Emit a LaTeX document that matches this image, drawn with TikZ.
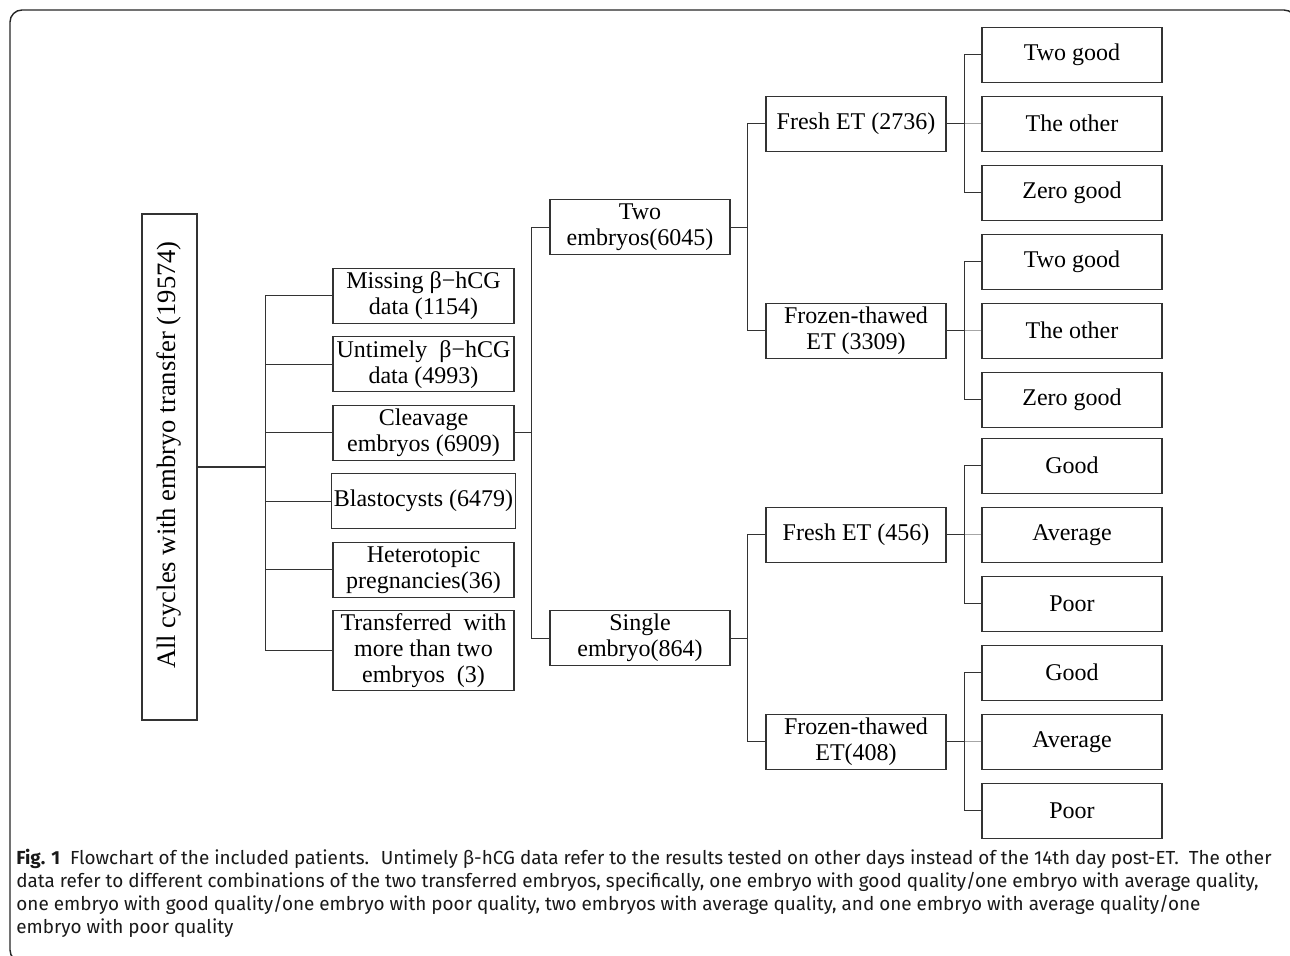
\documentclass[tikz,border=0pt]{standalone}
\usepackage{fontspec}
\setmainfont{Liberation Serif}
\newfontfamily\capfont{Fira Sans}
\usetikzlibrary{trees}

\begin{document}
\begin{tikzpicture}[x=0.5pt,y=-0.5pt]%
  \useasboundingbox (0,0) rectangle (1290,956);
  \clip (0,0) rectangle (1290,956);
  \tikzstyle{level 1}=[level distance=127pt,sibling distance=34.25pt,
    edge from parent path={(\tikzparentnode.east) -- +(34pt,0) |- (\tikzchildnode.west)}]
  \tikzstyle{level 2}=[level distance=108.25pt,sibling distance=205.5pt,
    edge from parent path={(\tikzparentnode.east) -- +(8.5pt,0) |- (\tikzchildnode.west)}]
  \tikzstyle{level 3}=[level distance=108pt,sibling distance=103.5pt,
    edge from parent path={(\tikzparentnode.east) -- +(8.5pt,0) |- (\tikzchildnode.west)}]
  \tikzstyle{level 4}=[level distance=108pt,sibling distance=34.5pt,
    edge from parent path={(\tikzparentnode.east) -- +(9pt,0) |- (\tikzchildnode.west)}]
  \tikzstyle{edge from parent}=[draw,black!80,line width=0.65pt]
  \tikzstyle{midline}=[draw=black!35,line width=0.45pt]
  \tikzstyle{boxn}=[rectangle,draw=black!80,line width=0.65pt,minimum width=90pt,
    minimum height=27.5pt,inner sep=1pt,align=center,font=\fontsize{12}{13}\selectfont]
  % frame round the figure and its caption
  \draw[black!85,line width=0.7pt,rounded corners=6pt] (10,10) rectangle (1296,962);
  \node(root)[boxn,minimum width=27.5pt,minimum height=253pt,font=\fontsize{13.3}{14}\selectfont] at (169.5,467)
    {\rotatebox{90}{\hspace*{12pt}All cycles with embryo transfer (19574)}}
    [grow'=right]
    child{node[boxn,minimum width=90.5pt]{Missing β−hCG\\data (1154)}}
    child{node[boxn,minimum width=90.5pt]{Untimely \ β−hCG\\data (4993)}}
    child{node(cleav)[boxn,minimum width=90.5pt]{Cleavage\\embryos (6909)}
      child{node(two)[boxn]{Two\\embryos(6045)}
        child{node[boxn]{Fresh ET (2736)}
          child{node[boxn]{Two good}}
          child{node[boxn]{The other} edge from parent[midline]}
          child{node[boxn]{Zero good}}}
        child{node[boxn]{Frozen-thawed\\ET (3309)}
          child{node[boxn]{Two good}}
          child{node[boxn]{The other} edge from parent[midline]}
          child{node[boxn]{Zero good}}}}
      child{node(single)[boxn]{Single\\embryo(864)}
        child{node[boxn]{Fresh ET (456)}
          child{node[boxn]{Good}}
          child{node[boxn]{Average} edge from parent[midline]}
          child{node[boxn]{Poor}}}
        child{node[boxn]{Frozen-thawed\\ET(408)}
          child{node[boxn]{Good}}
          child{node[boxn]{Average} edge from parent[midline]}
          child{node[boxn]{Poor}}}}}
    child{node[boxn,minimum width=90.5pt]{Blastocysts (6479)}}
    child{node[boxn,minimum width=90.5pt]{Heterotopic\\pregnancies(36)}}
    child{node[boxn,minimum width=90.5pt,minimum height=40pt,yshift=-6.25pt]{Transferred \ with\\more than two\\embryos \ (3)}}
    ;
  \node(caption)[anchor=north west,align=left,inner sep=0pt,text=black!90,
    font=\capfont\fontsize{9.45}{11.5}\selectfont] at (16,849)
    {{\bfseries Fig. 1}\ \ Flowchart of the included patients. \ Untimely β-hCG data refer to the results tested on other days instead of the 14th day post-ET. \ The other\\
     data refer to different combinations of the two transferred embryos, specifically, one embryo with good quality/one embryo with average quality,\\
     one embryo with good quality/one embryo with poor quality, two embryos with average quality, and one embryo with average quality/one\\
     embryo with poor quality};
\end{tikzpicture}
\end{document}
